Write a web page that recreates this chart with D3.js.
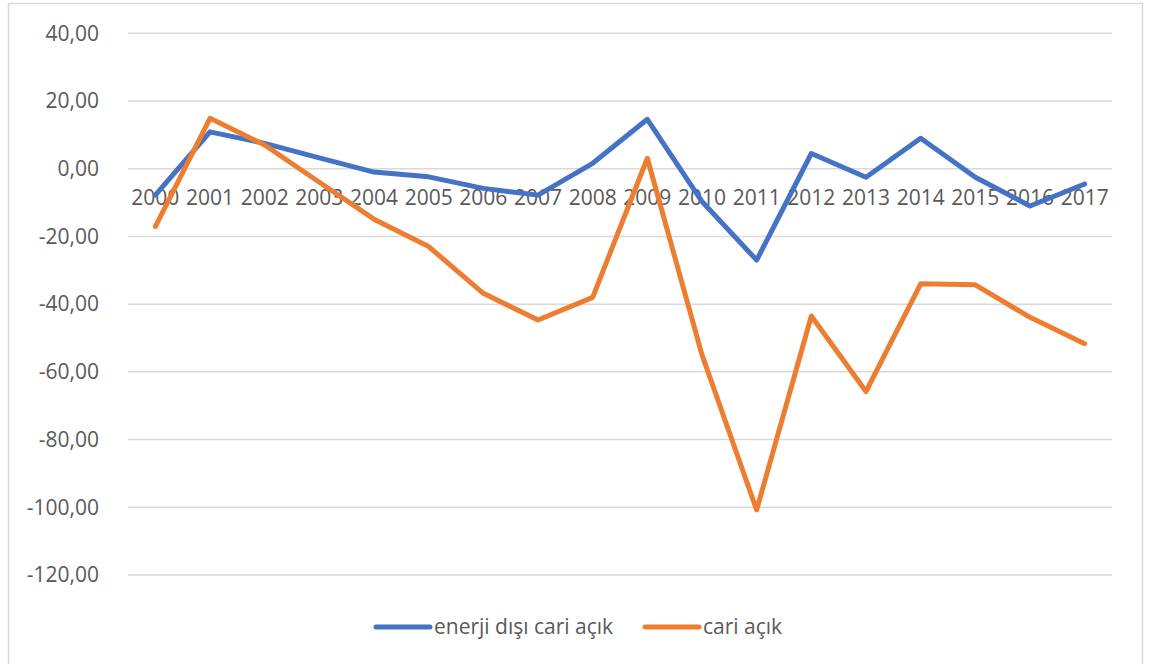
<!DOCTYPE html>
<html>
<head>
<meta charset="utf-8">
<script src="https://cdn.jsdelivr.net/npm/d3@7"></script>
<style>
  body { margin: 0; background: #fff; }
  text { font-family: "Open Sans", sans-serif; fill: #595959; }
</style>
</head>
<body>
<svg id="chart" width="1153" height="664"></svg>
<script>
// data
var years = ["2000","2001","2002","2003","2004","2005","2006","2007","2008",
             "2009","2010","2011","2012","2013","2014","2015","2016","2017"];
var enerjiDisi = [-7.8, 10.9, 7.5, 3.2, -1.0, -2.4, -5.8, -7.8, 1.6,
                  14.6, -9.7, -27.0, 4.5, -2.5, 9.0, -2.5, -11.0, -4.5];
var cariAcik = [-17.1, 14.9, 7.0, -4.0, -14.9, -23.0, -36.8, -44.7, -38.0,
                3.1, -55.0, -100.8, -43.5, -65.8, -34.0, -34.3, -43.9, -51.7];
var yTicks = [40, 20, 0, -20, -40, -60, -80, -100, -120];
var seriesNames = ["enerji dışı cari açık", "cari açık"];
var colors = ["#4472C4", "#ED7D31"];

var svg = d3.select("#chart");

// outer frame
svg.append("rect")
    .attr("x", 8.5).attr("y", 3.5)
    .attr("width", 1134).attr("height", 670)
    .attr("fill", "none")
    .attr("stroke", "#D9D9D9")
    .attr("stroke-width", 1.5);

var left = 128, right = 1112;
var x = d3.scaleBand().domain(years).range([left, right]);
var y = d3.scaleLinear().domain([-120, 40]).range([575, 33.3]);

// gridlines
svg.append("g")
    .selectAll("line")
    .data(yTicks)
    .enter().append("line")
    .attr("x1", left).attr("x2", right)
    .attr("y1", function (d) { return y(d); })
    .attr("y2", function (d) { return y(d); })
    .attr("stroke", "#D9D9D9")
    .attr("stroke-width", 1.5);

// y axis labels
var fmt = function (d) { return d3.format(".2f")(d).replace(".", ",").replace("−", "-"); };
var yAxis = d3.axisLeft(y).tickValues(yTicks).tickSize(0).tickPadding(0).tickFormat(fmt);
var gy = svg.append("g")
    .attr("transform", "translate(99,0)")
    .call(yAxis);
gy.select(".domain").remove();
gy.selectAll("text")
    .style("font-size", "21px")
    .style("font-family", "'Open Sans', sans-serif")
    .attr("fill", "#595959");

// x axis labels sit just under the zero line
var xAxis = d3.axisBottom(x).tickSize(0).tickPadding(0);
var gx = svg.append("g")
    .attr("transform", "translate(0," + (y(0) + 21) + ")")
    .call(xAxis);
gx.select(".domain").remove();
gx.selectAll("text")
    .style("font-size", "21px")
    .style("font-family", "'Open Sans', sans-serif")
    .attr("fill", "#595959");

// lines
var line = d3.line()
    .x(function (d, i) { return x(years[i]) + x.bandwidth() / 2; })
    .y(function (d) { return y(d); });

[enerjiDisi, cariAcik].forEach(function (s, k) {
    svg.append("path")
        .datum(s)
        .attr("d", line)
        .attr("fill", "none")
        .attr("stroke", colors[k])
        .attr("stroke-width", 5)
        .attr("stroke-linejoin", "round")
        .attr("stroke-linecap", "round");
});

// legend
var legendX = [376, 645];
var legend = svg.append("g");
seriesNames.forEach(function (name, k) {
    legend.append("line")
        .attr("x1", legendX[k]).attr("x2", legendX[k] + 54)
        .attr("y1", 627).attr("y2", 627)
        .attr("stroke", colors[k])
        .attr("stroke-width", 5)
        .attr("stroke-linecap", "round");
    legend.append("text")
        .attr("x", legendX[k] + 58)
        .attr("y", 627)
        .attr("dy", "0.35em")
        .style("font-size", "21px")
        .text(name);
});
</script>
</body>
</html>
